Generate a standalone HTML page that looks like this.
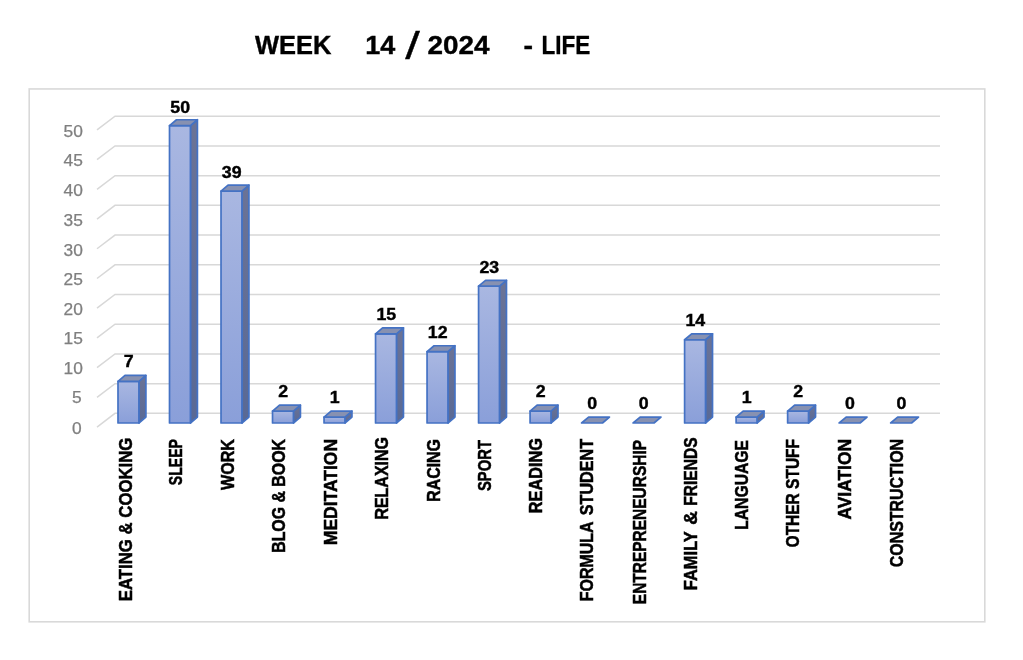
<!DOCTYPE html><html><head><meta charset="utf-8"><title>WEEK 14 / 2024 - LIFE</title>
<style>html,body{margin:0;padding:0;background:#fff}svg{display:block}text{font-family:"Liberation Sans",sans-serif}</style></head><body>
<svg width="1023" height="660" viewBox="0 0 1023 660">
<defs><linearGradient id="gf" x1="0" y1="0" x2="0" y2="1"><stop offset="0" stop-color="#a9b7e1"/><stop offset="1" stop-color="#8a9fd9"/></linearGradient>
<linearGradient id="gs" x1="0" y1="0" x2="0" y2="1"><stop offset="0" stop-color="#6b7396"/><stop offset="1" stop-color="#596995"/></linearGradient></defs>
<rect width="1023" height="660" fill="#fff"/>
<rect x="29.2" y="88.95" width="955.6" height="532.85" fill="#fff" stroke="#d9d9d9" stroke-width="1.6"/>
<polyline points="97,427.05 115,413.35 940,413.35" fill="none" stroke="#d8d8d8" stroke-width="1.5"/>
<text x="81.60" y="433.75" font-size="16.0" fill="#7f7f7f" stroke="#7f7f7f" stroke-width="0.25" text-anchor="end" textLength="9.65" lengthAdjust="spacingAndGlyphs">0</text>
<polyline points="97,397.34 115,383.64 940,383.64" fill="none" stroke="#d8d8d8" stroke-width="1.5"/>
<text x="81.60" y="403.25" font-size="16.0" fill="#7f7f7f" stroke="#7f7f7f" stroke-width="0.25" text-anchor="end" textLength="9.65" lengthAdjust="spacingAndGlyphs">5</text>
<polyline points="97,367.62 115,353.92 940,353.92" fill="none" stroke="#d8d8d8" stroke-width="1.5"/>
<text x="82.90" y="374.05" font-size="16.0" fill="#7f7f7f" stroke="#7f7f7f" stroke-width="0.25" text-anchor="end" textLength="19.30" lengthAdjust="spacingAndGlyphs">10</text>
<polyline points="97,337.91 115,324.21 940,324.21" fill="none" stroke="#d8d8d8" stroke-width="1.5"/>
<text x="82.90" y="344.35" font-size="16.0" fill="#7f7f7f" stroke="#7f7f7f" stroke-width="0.25" text-anchor="end" textLength="19.30" lengthAdjust="spacingAndGlyphs">15</text>
<polyline points="97,308.19 115,294.49 940,294.49" fill="none" stroke="#d8d8d8" stroke-width="1.5"/>
<text x="82.90" y="314.75" font-size="16.0" fill="#7f7f7f" stroke="#7f7f7f" stroke-width="0.25" text-anchor="end" textLength="19.30" lengthAdjust="spacingAndGlyphs">20</text>
<polyline points="97,278.48 115,264.78 940,264.78" fill="none" stroke="#d8d8d8" stroke-width="1.5"/>
<text x="82.90" y="285.15" font-size="16.0" fill="#7f7f7f" stroke="#7f7f7f" stroke-width="0.25" text-anchor="end" textLength="19.30" lengthAdjust="spacingAndGlyphs">25</text>
<polyline points="97,248.76 115,235.06 940,235.06" fill="none" stroke="#d8d8d8" stroke-width="1.5"/>
<text x="82.90" y="255.55" font-size="16.0" fill="#7f7f7f" stroke="#7f7f7f" stroke-width="0.25" text-anchor="end" textLength="19.30" lengthAdjust="spacingAndGlyphs">30</text>
<polyline points="97,219.05 115,205.35 940,205.35" fill="none" stroke="#d8d8d8" stroke-width="1.5"/>
<text x="82.90" y="225.75" font-size="16.0" fill="#7f7f7f" stroke="#7f7f7f" stroke-width="0.25" text-anchor="end" textLength="19.30" lengthAdjust="spacingAndGlyphs">35</text>
<polyline points="97,189.33 115,175.63 940,175.63" fill="none" stroke="#d8d8d8" stroke-width="1.5"/>
<text x="82.90" y="196.15" font-size="16.0" fill="#7f7f7f" stroke="#7f7f7f" stroke-width="0.25" text-anchor="end" textLength="19.30" lengthAdjust="spacingAndGlyphs">40</text>
<polyline points="97,159.62 115,145.92 940,145.92" fill="none" stroke="#d8d8d8" stroke-width="1.5"/>
<text x="82.90" y="166.45" font-size="16.0" fill="#7f7f7f" stroke="#7f7f7f" stroke-width="0.25" text-anchor="end" textLength="19.30" lengthAdjust="spacingAndGlyphs">45</text>
<polyline points="97,129.90 115,116.20 940,116.20" fill="none" stroke="#d8d8d8" stroke-width="1.5"/>
<text x="82.90" y="137.05" font-size="16.0" fill="#7f7f7f" stroke="#7f7f7f" stroke-width="0.25" text-anchor="end" textLength="19.30" lengthAdjust="spacingAndGlyphs">50</text>
<polygon points="138.90,381.37 145.90,375.47 145.90,417.10 138.90,423.00" fill="url(#gs)" stroke="#4472c4" stroke-width="1.7" stroke-linejoin="round"/>
<rect x="118.00" y="381.37" width="20.9" height="41.63" fill="url(#gf)" stroke="#4472c4" stroke-width="1.7" stroke-linejoin="round"/>
<polygon points="118.00,381.37 125.00,375.47 145.90,375.47 138.90,381.37" fill="#8791b1" stroke="#4472c4" stroke-width="1.7" stroke-linejoin="round"/>
<text x="128.70" y="367.46" font-size="16.6" font-weight="bold" fill="#000" stroke="#000" stroke-width="0.4" text-anchor="middle" textLength="9.88" lengthAdjust="spacingAndGlyphs">7</text>
<text transform="translate(132.30,437.60) rotate(-90)" font-size="18.0" font-weight="bold" fill="#000" stroke="#000" stroke-width="0.5" text-anchor="end" textLength="163.60" lengthAdjust="spacingAndGlyphs">EATING &amp; COOKING</text>
<polygon points="190.41,125.65 197.41,119.75 197.41,417.10 190.41,423.00" fill="url(#gs)" stroke="#4472c4" stroke-width="1.7" stroke-linejoin="round"/>
<rect x="169.51" y="125.65" width="20.9" height="297.35" fill="url(#gf)" stroke="#4472c4" stroke-width="1.7" stroke-linejoin="round"/>
<polygon points="169.51,125.65 176.51,119.75 197.41,119.75 190.41,125.65" fill="#8791b1" stroke="#4472c4" stroke-width="1.7" stroke-linejoin="round"/>
<text x="180.21" y="112.90" font-size="16.6" font-weight="bold" fill="#000" stroke="#000" stroke-width="0.4" text-anchor="middle" textLength="19.75" lengthAdjust="spacingAndGlyphs">50</text>
<text transform="translate(182.01,439.00) rotate(-90)" font-size="18.0" font-weight="bold" fill="#000" stroke="#000" stroke-width="0.5" text-anchor="end" textLength="46.20" lengthAdjust="spacingAndGlyphs">SLEEP</text>
<polygon points="241.92,191.07 248.92,185.17 248.92,417.10 241.92,423.00" fill="url(#gs)" stroke="#4472c4" stroke-width="1.7" stroke-linejoin="round"/>
<rect x="221.02" y="191.07" width="20.9" height="231.93" fill="url(#gf)" stroke="#4472c4" stroke-width="1.7" stroke-linejoin="round"/>
<polygon points="221.02,191.07 228.02,185.17 248.92,185.17 241.92,191.07" fill="#8791b1" stroke="#4472c4" stroke-width="1.7" stroke-linejoin="round"/>
<text x="231.72" y="178.02" font-size="16.6" font-weight="bold" fill="#000" stroke="#000" stroke-width="0.4" text-anchor="middle" textLength="19.75" lengthAdjust="spacingAndGlyphs">39</text>
<text transform="translate(234.32,439.00) rotate(-90)" font-size="18.0" font-weight="bold" fill="#000" stroke="#000" stroke-width="0.5" text-anchor="end" textLength="51.00" lengthAdjust="spacingAndGlyphs">WORK</text>
<polygon points="293.43,411.11 300.43,405.21 300.43,417.10 293.43,423.00" fill="url(#gs)" stroke="#4472c4" stroke-width="1.7" stroke-linejoin="round"/>
<rect x="272.53" y="411.11" width="20.9" height="11.89" fill="url(#gf)" stroke="#4472c4" stroke-width="1.7" stroke-linejoin="round"/>
<polygon points="272.53,411.11 279.53,405.21 300.43,405.21 293.43,411.11" fill="#8791b1" stroke="#4472c4" stroke-width="1.7" stroke-linejoin="round"/>
<text x="283.23" y="397.06" font-size="16.6" font-weight="bold" fill="#000" stroke="#000" stroke-width="0.4" text-anchor="middle" textLength="9.88" lengthAdjust="spacingAndGlyphs">2</text>
<text transform="translate(285.23,439.00) rotate(-90)" font-size="18.0" font-weight="bold" fill="#000" stroke="#000" stroke-width="0.5" text-anchor="end" textLength="113.80" lengthAdjust="spacingAndGlyphs">BLOG &amp; BOOK</text>
<polygon points="344.94,417.05 351.94,411.15 351.94,417.10 344.94,423.00" fill="url(#gs)" stroke="#4472c4" stroke-width="1.7" stroke-linejoin="round"/>
<rect x="324.04" y="417.05" width="20.9" height="5.95" fill="url(#gf)" stroke="#4472c4" stroke-width="1.7" stroke-linejoin="round"/>
<polygon points="324.04,417.05 331.04,411.15 351.94,411.15 344.94,417.05" fill="#8791b1" stroke="#4472c4" stroke-width="1.7" stroke-linejoin="round"/>
<text x="334.74" y="402.98" font-size="16.6" font-weight="bold" fill="#000" stroke="#000" stroke-width="0.4" text-anchor="middle" textLength="9.88" lengthAdjust="spacingAndGlyphs">1</text>
<text transform="translate(337.34,439.00) rotate(-90)" font-size="18.0" font-weight="bold" fill="#000" stroke="#000" stroke-width="0.5" text-anchor="end" textLength="106.20" lengthAdjust="spacingAndGlyphs">MEDITATION</text>
<polygon points="396.45,333.80 403.45,327.90 403.45,417.10 396.45,423.00" fill="url(#gs)" stroke="#4472c4" stroke-width="1.7" stroke-linejoin="round"/>
<rect x="375.55" y="333.80" width="20.9" height="89.20" fill="url(#gf)" stroke="#4472c4" stroke-width="1.7" stroke-linejoin="round"/>
<polygon points="375.55,333.80 382.55,327.90 403.45,327.90 396.45,333.80" fill="#8791b1" stroke="#4472c4" stroke-width="1.7" stroke-linejoin="round"/>
<text x="386.25" y="320.10" font-size="16.6" font-weight="bold" fill="#000" stroke="#000" stroke-width="0.4" text-anchor="middle" textLength="19.75" lengthAdjust="spacingAndGlyphs">15</text>
<text transform="translate(388.25,437.00) rotate(-90)" font-size="18.0" font-weight="bold" fill="#000" stroke="#000" stroke-width="0.5" text-anchor="end" textLength="82.60" lengthAdjust="spacingAndGlyphs">RELAXING</text>
<polygon points="447.96,351.64 454.96,345.74 454.96,417.10 447.96,423.00" fill="url(#gs)" stroke="#4472c4" stroke-width="1.7" stroke-linejoin="round"/>
<rect x="427.06" y="351.64" width="20.9" height="71.36" fill="url(#gf)" stroke="#4472c4" stroke-width="1.7" stroke-linejoin="round"/>
<polygon points="427.06,351.64 434.06,345.74 454.96,345.74 447.96,351.64" fill="#8791b1" stroke="#4472c4" stroke-width="1.7" stroke-linejoin="round"/>
<text x="437.76" y="337.86" font-size="16.6" font-weight="bold" fill="#000" stroke="#000" stroke-width="0.4" text-anchor="middle" textLength="19.75" lengthAdjust="spacingAndGlyphs">12</text>
<text transform="translate(440.36,439.00) rotate(-90)" font-size="18.0" font-weight="bold" fill="#000" stroke="#000" stroke-width="0.5" text-anchor="end" textLength="62.80" lengthAdjust="spacingAndGlyphs">RACING</text>
<polygon points="499.47,286.22 506.47,280.32 506.47,417.10 499.47,423.00" fill="url(#gs)" stroke="#4472c4" stroke-width="1.7" stroke-linejoin="round"/>
<rect x="478.57" y="286.22" width="20.9" height="136.78" fill="url(#gf)" stroke="#4472c4" stroke-width="1.7" stroke-linejoin="round"/>
<polygon points="478.57,286.22 485.57,280.32 506.47,280.32 499.47,286.22" fill="#8791b1" stroke="#4472c4" stroke-width="1.7" stroke-linejoin="round"/>
<text x="489.27" y="272.74" font-size="16.6" font-weight="bold" fill="#000" stroke="#000" stroke-width="0.4" text-anchor="middle" textLength="19.75" lengthAdjust="spacingAndGlyphs">23</text>
<text transform="translate(491.27,440.00) rotate(-90)" font-size="18.0" font-weight="bold" fill="#000" stroke="#000" stroke-width="0.5" text-anchor="end" textLength="51.00" lengthAdjust="spacingAndGlyphs">SPORT</text>
<polygon points="550.98,411.11 557.98,405.21 557.98,417.10 550.98,423.00" fill="url(#gs)" stroke="#4472c4" stroke-width="1.7" stroke-linejoin="round"/>
<rect x="530.08" y="411.11" width="20.9" height="11.89" fill="url(#gf)" stroke="#4472c4" stroke-width="1.7" stroke-linejoin="round"/>
<polygon points="530.08,411.11 537.08,405.21 557.98,405.21 550.98,411.11" fill="#8791b1" stroke="#4472c4" stroke-width="1.7" stroke-linejoin="round"/>
<text x="540.78" y="397.06" font-size="16.6" font-weight="bold" fill="#000" stroke="#000" stroke-width="0.4" text-anchor="middle" textLength="9.88" lengthAdjust="spacingAndGlyphs">2</text>
<text transform="translate(542.38,438.00) rotate(-90)" font-size="18.0" font-weight="bold" fill="#000" stroke="#000" stroke-width="0.5" text-anchor="end" textLength="75.20" lengthAdjust="spacingAndGlyphs">READING</text>
<polygon points="581.59,423.00 588.59,417.10 609.49,417.10 602.49,423.00" fill="#8791b1" stroke="#4472c4" stroke-width="1.7" stroke-linejoin="round"/>
<text x="592.29" y="408.90" font-size="16.6" font-weight="bold" fill="#000" stroke="#000" stroke-width="0.4" text-anchor="middle" textLength="9.88" lengthAdjust="spacingAndGlyphs">0</text>
<text transform="translate(593.29,440.00) rotate(-90)" font-size="18.0" font-weight="bold" fill="#000" stroke="#000" stroke-width="0.5"><tspan x="-161.30" textLength="79.30" lengthAdjust="spacingAndGlyphs">FORMULA</tspan> <tspan x="-75.20" textLength="76.20" lengthAdjust="spacingAndGlyphs">STUDENT</tspan></text>
<polygon points="633.10,423.00 640.10,417.10 661.00,417.10 654.00,423.00" fill="#8791b1" stroke="#4472c4" stroke-width="1.7" stroke-linejoin="round"/>
<text x="643.80" y="408.90" font-size="16.6" font-weight="bold" fill="#000" stroke="#000" stroke-width="0.4" text-anchor="middle" textLength="9.88" lengthAdjust="spacingAndGlyphs">0</text>
<text transform="translate(646.40,440.00) rotate(-90)" font-size="18.0" font-weight="bold" fill="#000" stroke="#000" stroke-width="0.5" text-anchor="end" textLength="164.20" lengthAdjust="spacingAndGlyphs">ENTREPRENEURSHIP</text>
<polygon points="705.51,339.74 712.51,333.84 712.51,417.10 705.51,423.00" fill="url(#gs)" stroke="#4472c4" stroke-width="1.7" stroke-linejoin="round"/>
<rect x="684.61" y="339.74" width="20.9" height="83.26" fill="url(#gf)" stroke="#4472c4" stroke-width="1.7" stroke-linejoin="round"/>
<polygon points="684.61,339.74 691.61,333.84 712.51,333.84 705.51,339.74" fill="#8791b1" stroke="#4472c4" stroke-width="1.7" stroke-linejoin="round"/>
<text x="695.31" y="326.02" font-size="16.6" font-weight="bold" fill="#000" stroke="#000" stroke-width="0.4" text-anchor="middle" textLength="19.75" lengthAdjust="spacingAndGlyphs">14</text>
<text transform="translate(697.31,438.00) rotate(-90)" font-size="18.0" font-weight="bold" fill="#000" stroke="#000" stroke-width="0.5"><tspan x="-152.20" textLength="58.60" lengthAdjust="spacingAndGlyphs">FAMILY</tspan> <tspan x="-86.80" textLength="13.70" lengthAdjust="spacingAndGlyphs">&amp;</tspan> <tspan x="-67.70" textLength="68.20" lengthAdjust="spacingAndGlyphs">FRIENDS</tspan></text>
<polygon points="757.02,417.05 764.02,411.15 764.02,417.10 757.02,423.00" fill="url(#gs)" stroke="#4472c4" stroke-width="1.7" stroke-linejoin="round"/>
<rect x="736.12" y="417.05" width="20.9" height="5.95" fill="url(#gf)" stroke="#4472c4" stroke-width="1.7" stroke-linejoin="round"/>
<polygon points="736.12,417.05 743.12,411.15 764.02,411.15 757.02,417.05" fill="#8791b1" stroke="#4472c4" stroke-width="1.7" stroke-linejoin="round"/>
<text x="746.82" y="402.98" font-size="16.6" font-weight="bold" fill="#000" stroke="#000" stroke-width="0.4" text-anchor="middle" textLength="9.88" lengthAdjust="spacingAndGlyphs">1</text>
<text transform="translate(748.42,440.00) rotate(-90)" font-size="18.0" font-weight="bold" fill="#000" stroke="#000" stroke-width="0.5" text-anchor="end" textLength="89.80" lengthAdjust="spacingAndGlyphs">LANGUAGE</text>
<polygon points="808.53,411.11 815.53,405.21 815.53,417.10 808.53,423.00" fill="url(#gs)" stroke="#4472c4" stroke-width="1.7" stroke-linejoin="round"/>
<rect x="787.63" y="411.11" width="20.9" height="11.89" fill="url(#gf)" stroke="#4472c4" stroke-width="1.7" stroke-linejoin="round"/>
<polygon points="787.63,411.11 794.63,405.21 815.53,405.21 808.53,411.11" fill="#8791b1" stroke="#4472c4" stroke-width="1.7" stroke-linejoin="round"/>
<text x="798.33" y="397.06" font-size="16.6" font-weight="bold" fill="#000" stroke="#000" stroke-width="0.4" text-anchor="middle" textLength="9.88" lengthAdjust="spacingAndGlyphs">2</text>
<text transform="translate(799.33,439.00) rotate(-90)" font-size="18.0" font-weight="bold" fill="#000" stroke="#000" stroke-width="0.5" text-anchor="end" textLength="108.40" lengthAdjust="spacingAndGlyphs">OTHER STUFF</text>
<polygon points="839.14,423.00 846.14,417.10 867.04,417.10 860.04,423.00" fill="#8791b1" stroke="#4472c4" stroke-width="1.7" stroke-linejoin="round"/>
<text x="849.84" y="408.90" font-size="16.6" font-weight="bold" fill="#000" stroke="#000" stroke-width="0.4" text-anchor="middle" textLength="9.88" lengthAdjust="spacingAndGlyphs">0</text>
<text transform="translate(850.84,439.00) rotate(-90)" font-size="18.0" font-weight="bold" fill="#000" stroke="#000" stroke-width="0.5" text-anchor="end" textLength="80.60" lengthAdjust="spacingAndGlyphs">AVIATION</text>
<polygon points="890.65,423.00 897.65,417.10 918.55,417.10 911.55,423.00" fill="#8791b1" stroke="#4472c4" stroke-width="1.7" stroke-linejoin="round"/>
<text x="901.35" y="408.90" font-size="16.6" font-weight="bold" fill="#000" stroke="#000" stroke-width="0.4" text-anchor="middle" textLength="9.88" lengthAdjust="spacingAndGlyphs">0</text>
<text transform="translate(902.95,439.00) rotate(-90)" font-size="18.0" font-weight="bold" fill="#000" stroke="#000" stroke-width="0.5" text-anchor="end" textLength="128.20" lengthAdjust="spacingAndGlyphs">CONSTRUCTION</text>
<text font-size="26.3" font-weight="bold" fill="#000" stroke="#000" stroke-width="0.4">
<tspan x="254.90" y="54.00" font-size="26.3" textLength="76.40" lengthAdjust="spacingAndGlyphs">WEEK</tspan> 
<tspan x="365.20" y="54.00" font-size="26.3" textLength="30.00" lengthAdjust="spacingAndGlyphs">14</tspan> 
<tspan x="405.20" y="58.80" font-size="38" font-weight="normal" stroke-width="0.3" textLength="14.60" lengthAdjust="spacingAndGlyphs">/</tspan> 
<tspan x="427.60" y="54.00" font-size="26.3" textLength="62.00" lengthAdjust="spacingAndGlyphs">2024</tspan> 
<tspan x="523.50" y="54.00" font-size="26.3" textLength="9.50" lengthAdjust="spacingAndGlyphs">-</tspan> 
<tspan x="541.60" y="54.00" font-size="26.3" textLength="48.70" lengthAdjust="spacingAndGlyphs">LIFE</tspan>
</text>
</svg></body></html>
